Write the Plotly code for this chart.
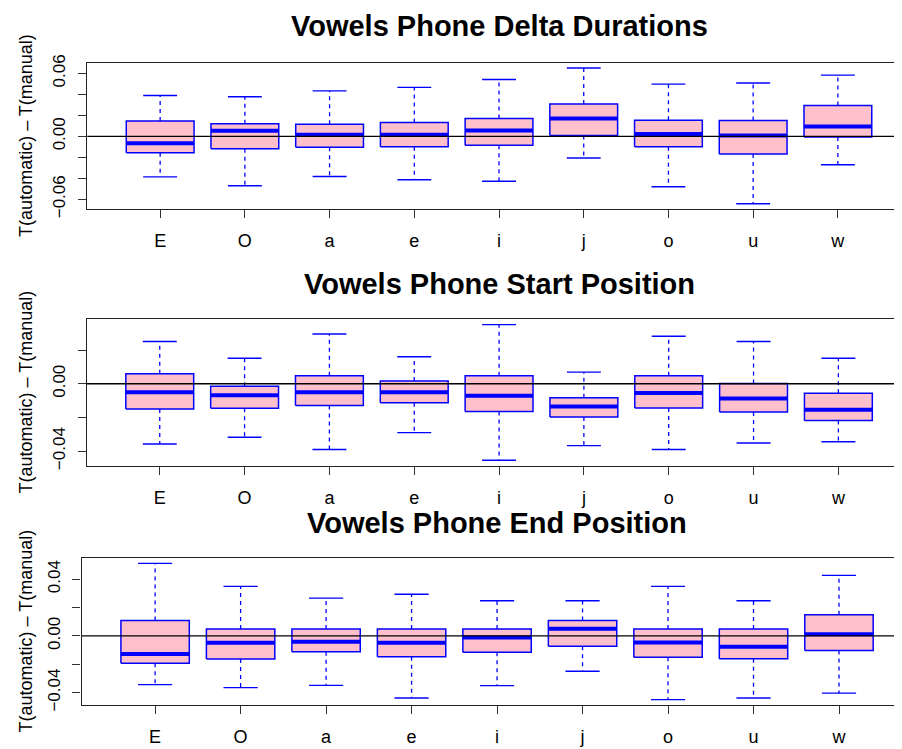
import plotly.graph_objects as go

# Page is 902x749; the browser's default body margin (8px) offsets the figure.
PAGE_W, PAGE_H = 902, 749
BODY = 8
W, H = PAGE_W - BODY, PAGE_H - BODY

categories = ["E", "O", "a", "e", "i", "j", "o", "u", "w"]

titles = ["Vowels Phone Delta Durations",
          "Vowels Phone Start Position",
          "Vowels Phone End Position"]
ytitle = "T(automatic) \u2013 T(manual)"

# Panel 1: Delta Durations
dur_lower = [-0.0386, -0.0470, -0.0383, -0.0414, -0.0427, -0.0206, -0.0480, -0.0642, -0.0271]
dur_q1 = [-0.0156, -0.0118, -0.0103, -0.0100, -0.0084, 0.0009, -0.0100, -0.0168, -0.0006]
dur_median = [-0.0065, 0.0053, 0.0016, 0.0016, 0.0056, 0.0171, 0.0022, 0.0009, 0.0093]
dur_q3 = [0.0146, 0.0121, 0.0115, 0.0131, 0.0171, 0.0308, 0.0153, 0.0150, 0.0293]
dur_upper = [0.0389, 0.0377, 0.0433, 0.0467, 0.0542, 0.0651, 0.0498, 0.0508, 0.0583]

# Panel 2: Start Position
start_lower = [-0.0357, -0.0317, -0.0390, -0.0290, -0.0454, -0.0367, -0.0390, -0.0351, -0.0344]
start_q1 = [-0.0149, -0.0145, -0.0129, -0.0112, -0.0164, -0.0197, -0.0143, -0.0168, -0.0218]
start_median = [-0.0050, -0.0068, -0.0050, -0.0050, -0.0071, -0.0135, -0.0054, -0.0087, -0.0154]
start_q3 = [0.0060, -0.0015, 0.0048, 0.0017, 0.0048, -0.0083, 0.0048, 0.0002, -0.0056]
start_upper = [0.0251, 0.0151, 0.0295, 0.0160, 0.0351, 0.0069, 0.0282, 0.0251, 0.0151]

# Panel 3: End Position
end_lower = [-0.0344, -0.0365, -0.0349, -0.0438, -0.0351, -0.0250, -0.0450, -0.0438, -0.0404]
end_q1 = [-0.0193, -0.0163, -0.0112, -0.0147, -0.0115, -0.0073, -0.0151, -0.0161, -0.0103]
end_median = [-0.0128, -0.0048, -0.0041, -0.0048, -0.0011, 0.0050, -0.0046, -0.0076, 0.0011]
end_q3 = [0.0108, 0.0048, 0.0048, 0.0048, 0.0048, 0.0108, 0.0048, 0.0048, 0.0149]
end_upper = [0.0511, 0.0349, 0.0266, 0.0294, 0.0248, 0.0248, 0.0349, 0.0248, 0.0427]

# y tick values and labels (R skips overlapping labels)
p1_ytickvals = [0.06, 0.04, 0.02, 0.0, -0.02, -0.04, -0.06]
p1_yticktext = ["0.06", "", "", "0.00", "", "", "\u22120.06"]
p2_ytickvals = [0.02, 0.0, -0.02, -0.04]
p2_yticktext = ["", "0.00", "", "\u22120.04"]
p3_ytickvals = [0.04, 0.02, 0.0, -0.02, -0.04]
p3_yticktext = ["0.04", "", "0.00", "", "\u22120.04"]

panels = [
    dict(lower=dur_lower, q1=dur_q1, med=dur_median, q3=dur_q3, upper=dur_upper,
         tv=p1_ytickvals, tt=p1_yticktext),
    dict(lower=start_lower, q1=start_q1, med=start_median, q3=start_q3, upper=start_upper,
         tv=p2_ytickvals, tt=p2_yticktext),
    dict(lower=end_lower, q1=end_q1, med=end_median, q3=end_q3, upper=end_upper,
         tv=p3_ytickvals, tt=p3_yticktext),
]

# layout geometry in page pixels: plot-area left, top, bottom; x-range right end
geom = [
    dict(left=87.3, top=55.7, bottom=205.7, xr=9.757, title_y=17.8),
    dict(left=86.8, top=318.3, bottom=468.3, xr=9.750, title_y=281.3),
    dict(left=81.6, top=562.7, bottom=713.3, xr=9.737, title_y=526.3),
]


def px(x):
    return (x - BODY) / W


def py(y):
    return 1 - (y - BODY) / H


FONT = "Liberation Sans, Arial, Helvetica, sans-serif"
BLUE = "#0000FF"
PINK = "#FFC0CB"
BOXHALF = 0.4
CAPHALF = 0.2

fig = go.Figure()
annotations = []
shapes = []
layout_axes = {}

for k, (p, g) in enumerate(zip(panels, geom)):
    n = k + 1
    xa = "x" if n == 1 else f"x{n}"
    ya = "y" if n == 1 else f"y{n}"
    xs = list(range(1, len(categories) + 1))

    wx, wy, cx, cy, bx, by, mx, my = [], [], [], [], [], [], [], []
    for i, x in enumerate(xs):
        wx += [x, x, None, x, x, None]
        wy += [p["q3"][i], p["upper"][i], None, p["q1"][i], p["lower"][i], None]
        cx += [x - CAPHALF, x + CAPHALF, None, x - CAPHALF, x + CAPHALF, None]
        cy += [p["upper"][i], p["upper"][i], None, p["lower"][i], p["lower"][i], None]
        bx += [x - BOXHALF, x + BOXHALF, x + BOXHALF, x - BOXHALF, x - BOXHALF, None]
        by += [p["q1"][i], p["q1"][i], p["q3"][i], p["q3"][i], p["q1"][i], None]
        mx += [x - BOXHALF, x + BOXHALF, None]
        my += [p["med"][i], p["med"][i], None]

    fig.add_trace(go.Scatter(x=wx, y=wy, mode="lines", xaxis=xa, yaxis=ya,
                             line=dict(color=BLUE, width=1.3, dash="4px,4px"),
                             showlegend=False, hoverinfo="skip"))
    fig.add_trace(go.Scatter(x=cx, y=cy, mode="lines", xaxis=xa, yaxis=ya,
                             line=dict(color=BLUE, width=1.4),
                             showlegend=False, hoverinfo="skip"))
    fig.add_trace(go.Scatter(x=bx, y=by, mode="lines", fill="toself", fillcolor=PINK,
                             xaxis=xa, yaxis=ya,
                             line=dict(color=BLUE, width=1.5),
                             showlegend=False, hoverinfo="skip"))
    fig.add_trace(go.Scatter(x=mx, y=my, mode="lines", xaxis=xa, yaxis=ya,
                             line=dict(color=BLUE, width=4),
                             showlegend=False, hoverinfo="skip"))

    # R-style y range: data extent padded by 4%
    lo = min(p["lower"])
    hi = max(p["upper"])
    pad = 0.04 * (hi - lo)
    yrange = [lo - pad, hi + pad]

    xdom = [px(g["left"]), 1.0]
    ydom = [py(g["bottom"]), py(g["top"])]

    layout_axes["xaxis" if n == 1 else f"xaxis{n}"] = dict(
        domain=xdom, anchor=ya, range=[0.14, g["xr"]],
        tickmode="array", tickvals=xs, ticktext=categories,
        ticks="outside", ticklen=8, tickwidth=1.2, tickcolor="#333333",
        ticklabelstandoff=7,
        showline=True, mirror=True, linecolor="#222222", linewidth=1.4,
        showgrid=False, zeroline=False,
        tickfont=dict(family=FONT, size=18, color="black"),
    )
    layout_axes["yaxis" if n == 1 else f"yaxis{n}"] = dict(
        domain=ydom, anchor=xa, range=yrange,
        tickmode="array", tickvals=p["tv"], ticktext=p["tt"],
        ticks="outside", ticklen=8, tickwidth=1.2, tickcolor="#333333",
        tickangle=-90, ticklabelstandoff=6,
        showline=True, mirror=False, linecolor="#222222", linewidth=1.4,
        showgrid=False, zeroline=False,
        tickfont=dict(family=FONT, size=17, color="black"),
    )

    # horizontal reference line at 0 (abline h=0), drawn above boxes
    shapes.append(dict(type="line", xref=f"{xa} domain", yref=ya,
                       x0=0, x1=1, y0=0, y1=0, layer="above",
                       line=dict(color="black", width=1.4)))

    # panel title, centred over the full (uncropped) plot region
    full_right = g["left"] + (9.86 - 0.14) / (g["xr"] - 0.14) * (PAGE_W - g["left"])
    annotations.append(dict(
        text=f"<b>{titles[k]}</b>", xref="paper", yref="paper",
        x=px((g["left"] + full_right) / 2),
        y=py(g["title_y"] + 0.5), xanchor="center", yanchor="middle",
        showarrow=False, font=dict(family=FONT, size=29, color="black")))
    # y-axis title
    annotations.append(dict(
        text=ytitle, xref="paper", yref="paper",
        x=px(26), y=py((g["top"] + g["bottom"]) / 2),
        xanchor="center", yanchor="middle", textangle=-90,
        showarrow=False, font=dict(family=FONT, size=18, color="black")))

fig.update_layout(
    width=W, height=H,
    margin=dict(l=0, r=0, t=0, b=0),
    paper_bgcolor="white", plot_bgcolor="white",
    showlegend=False,
    annotations=annotations,
    shapes=shapes,
    **layout_axes,
)

fig.write_html("out.html", config={"displayModeBar": False})
